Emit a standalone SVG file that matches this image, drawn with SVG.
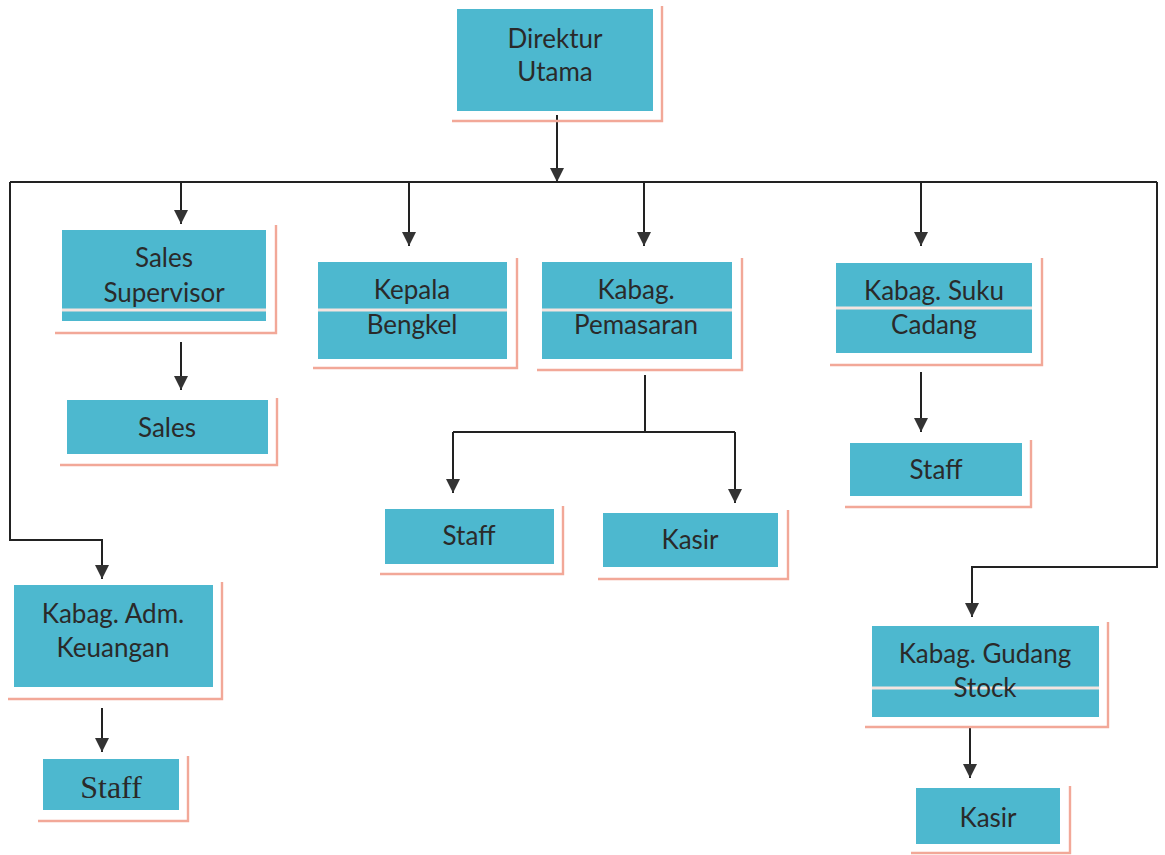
<svg xmlns="http://www.w3.org/2000/svg" width="1165" height="855" viewBox="0 0 1165 855">
<style>
.box{fill:#4db8cf;}
.sh{fill:none;stroke:#f2a898;stroke-width:2.4;}
.wl{stroke:#f4e4e0;stroke-width:3;}
.t{font-family:Lato,"Open Sans","Liberation Sans",sans-serif;font-size:26px;fill:#2a2a2a;text-anchor:middle;}
.ts{font-family:"Liberation Serif","DejaVu Serif",serif;font-size:32px;fill:#2a2a2a;text-anchor:middle;}
.ln{fill:none;stroke:#222;stroke-width:2;}
</style>
<defs>
<marker id="ah" viewBox="0 0 10 10" refX="10" refY="5" markerWidth="7" markerHeight="7" markerUnits="strokeWidth" orient="auto">
<path d="M0,0 L10,5 L0,10 Z" fill="#333"/>
</marker>
</defs>
<rect width="1165" height="855" fill="#fff"/>
<g id="connectors">
<path class="ln" d="M557,115 V182" marker-end="url(#ah)"/>
<path class="ln" d="M10,182 H1157"/>
<path class="ln" d="M181,182 V224" marker-end="url(#ah)"/>
<path class="ln" d="M409,182 V246" marker-end="url(#ah)"/>
<path class="ln" d="M644,182 V246" marker-end="url(#ah)"/>
<path class="ln" d="M921,182 V246" marker-end="url(#ah)"/>
<path class="ln" d="M181,342 V390" marker-end="url(#ah)"/>
<path class="ln" d="M921,372 V432" marker-end="url(#ah)"/>
<path class="ln" d="M645,375 V432"/>
<path class="ln" d="M453,432 H735"/>
<path class="ln" d="M453,432 V493" marker-end="url(#ah)"/>
<path class="ln" d="M735,432 V503" marker-end="url(#ah)"/>
<path class="ln" d="M10,182 V540 H102 V579" marker-end="url(#ah)"/>
<path class="ln" d="M102,708 V752" marker-end="url(#ah)"/>
<path class="ln" d="M1157,182 V567 H972 V617" marker-end="url(#ah)"/>
<path class="ln" d="M970,728 V778" marker-end="url(#ah)"/>
</g>
<g id="direktur">
<path class="sh" d="M452,121 H662 V6"/>
<rect class="box" x="457" y="9" width="196" height="102"/>
<text class="t" x="555" y="48">Direktur</text>
<text class="t" x="555" y="81">Utama</text>
</g>
<g id="sales-supervisor">
<path class="sh" d="M55,333 H276 V225"/>
<rect class="box" x="62" y="230" width="204" height="91"/>
<line class="wl" x1="62" y1="310" x2="266" y2="310"/>
<text class="t" x="164" y="267">Sales</text>
<text class="t" x="164" y="302">Supervisor</text>
</g>
<g id="sales">
<path class="sh" d="M60,465 H277 V398"/>
<rect class="box" x="67" y="400" width="201" height="54"/>
<text class="t" x="167" y="437">Sales</text>
</g>
<g id="kepala-bengkel">
<path class="sh" d="M313,368 H517 V258"/>
<rect class="box" x="318" y="262" width="189" height="97"/>
<line class="wl" x1="318" y1="310" x2="507" y2="310"/>
<text class="t" x="412" y="299">Kepala</text>
<text class="t" x="412" y="334">Bengkel</text>
</g>
<g id="kabag-pemasaran">
<path class="sh" d="M537,370 H742 V258"/>
<rect class="box" x="542" y="262" width="190" height="97"/>
<line class="wl" x1="542" y1="310" x2="732" y2="310"/>
<text class="t" x="636" y="299">Kabag.</text>
<text class="t" x="636" y="334">Pemasaran</text>
</g>
<g id="kabag-suku-cadang">
<path class="sh" d="M830,365 H1042 V258"/>
<rect class="box" x="836" y="263" width="196" height="90"/>
<line class="wl" x1="836" y1="308" x2="1032" y2="308"/>
<text class="t" x="934" y="300">Kabag. Suku</text>
<text class="t" x="934" y="334">Cadang</text>
</g>
<g id="staff-suku">
<path class="sh" d="M845,507 H1031 V440"/>
<rect class="box" x="850" y="443" width="172" height="53"/>
<text class="t" x="936" y="479">Staff</text>
</g>
<g id="staff-pemasaran">
<path class="sh" d="M380,574 H563 V506"/>
<rect class="box" x="385" y="509" width="169" height="55"/>
<text class="t" x="469" y="545">Staff</text>
</g>
<g id="kasir-pemasaran">
<path class="sh" d="M598,579 H788 V510"/>
<rect class="box" x="603" y="513" width="175" height="54"/>
<text class="t" x="690" y="549">Kasir</text>
</g>
<g id="kabag-adm-keuangan">
<path class="sh" d="M8,699 H222 V582"/>
<rect class="box" x="14" y="585" width="199" height="102"/>
<text class="t" x="113" y="623">Kabag. Adm.</text>
<text class="t" x="113" y="657">Keuangan</text>
</g>
<g id="staff-keuangan">
<path class="sh" d="M38,821 H188 V756"/>
<rect class="box" x="43" y="759" width="136" height="51"/>
<text class="ts" x="111" y="798">Staff</text>
</g>
<g id="kabag-gudang-stock">
<path class="sh" d="M865,727 H1108 V622"/>
<rect class="box" x="872" y="626" width="227" height="91"/>
<line class="wl" x1="872" y1="688" x2="1099" y2="688"/>
<text class="t" x="985" y="663">Kabag. Gudang</text>
<text class="t" x="985" y="697">Stock</text>
</g>
<g id="kasir-gudang">
<path class="sh" d="M911,853 H1070 V786"/>
<rect class="box" x="916" y="788" width="144" height="56"/>
<text class="t" x="988" y="827">Kasir</text>
</g>
</svg>
